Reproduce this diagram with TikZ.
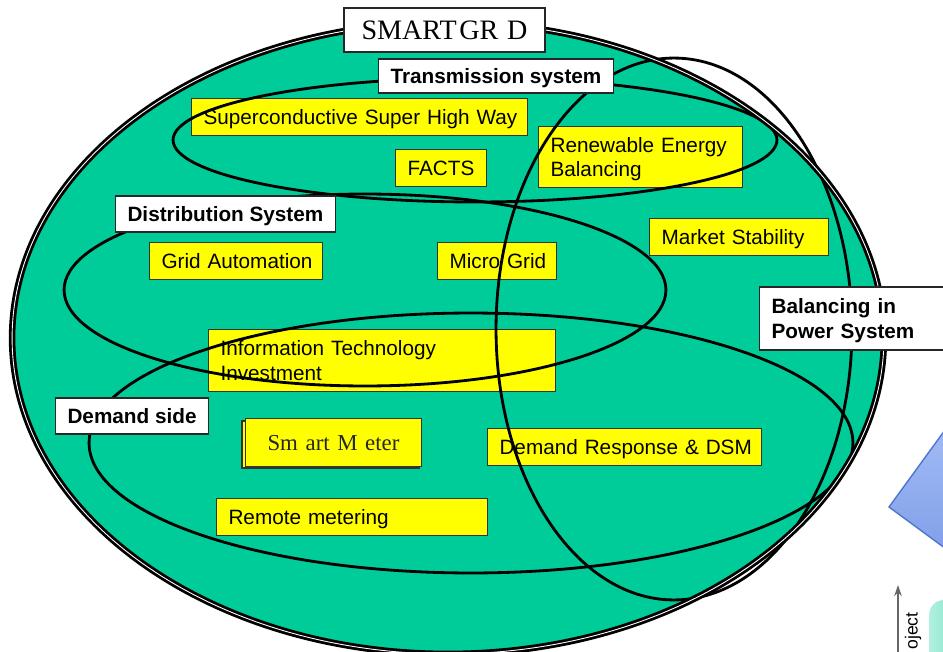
\documentclass[tikz,border=0pt]{standalone}
\usepackage{fontspec}
\setmainfont{Liberation Sans}
\newfontfamily\gridserif{Liberation Serif}
\usetikzlibrary{arrows.meta}
\definecolor{gridgreen}{RGB}{0,204,153}
\definecolor{boxyellow}{RGB}{255,255,0}
\definecolor{diamondtop}{RGB}{172,196,250}
\definecolor{diamondbot}{RGB}{118,150,228}
\definecolor{diamondline}{RGB}{78,118,205}
\tikzset{
  area/.style={line width=1.6pt},
  nobreaks/.style={execute at begin node={\hyphenpenalty=10000\exhyphenpenalty=10000}},
  yellowbox/.style={draw=black!80, fill=boxyellow, line width=0.6pt, anchor=north west, nobreaks,
    inner xsep=0.24cm, inner ysep=0pt, text depth=0pt, align=left, font=\fontsize{11.8}{13.8}\selectfont},
  areaname/.style={draw=black!85, fill=white, line width=0.6pt, anchor=west, nobreaks,
    inner xsep=0.24cm, inner ysep=0pt, text depth=0pt, align=left, font=\bfseries\fontsize{11.8}{13.8}\selectfont},
  twoline/.style={text height=8.5pt, text depth=13.8pt},
}
\begin{document}
\begin{tikzpicture}[x=0.02cm,y=-0.02cm]
  \useasboundingbox (0,0) rectangle (943,652);
  \clip (0,0) rectangle (943,652);
  \fill[gridgreen] (448,338) ellipse [x radius=8.72cm, y radius=6.32cm];

  \node[yellowbox, text width=6.24cm, minimum height=0.74cm] (sup) at (191,98) {Superconductive~Super~High~Way};
  \node[yellowbox, text width=1.34cm, minimum height=0.74cm] (facts) at (395,149) {FACTS};
  \node[yellowbox, twoline, text width=3.6cm, minimum height=1.22cm] (renew) at (538,126) {Renewable~Energy\\Balancing};
  \node[yellowbox, text width=2.98cm, minimum height=0.74cm] (gridauto) at (149,242) {Grid~Automation};
  \node[yellowbox, text width=1.9cm, minimum height=0.74cm] (micro) at (437,242) {Micro~Grid};
  \node[yellowbox, text width=3.1cm, minimum height=0.74cm] (market) at (649,218) {Market~Stability};
  \node[yellowbox, twoline, text width=6.46cm, minimum height=1.24cm] (info) at (208,329) {Information~Technology\\Investment};
  \draw[draw=black!80, fill=boxyellow, line width=0.6pt] (242,421) rectangle (419,468);
  \node[yellowbox, text width=3.04cm, minimum height=0.96cm, align=center,
    font=\gridserif\fontsize{13}{15}\selectfont, text=black!85] (meter) at (245,418) {Sm art M eter};
  \node[yellowbox, text width=5.0cm, minimum height=0.74cm] (dsm) at (487,428) {Demand~Response~\&~DSM};
  \node[yellowbox, text width=4.94cm, minimum height=0.74cm] (remote) at (216,498) {Remote~metering};

  \draw[area] (475,140) ellipse [x radius=6.04cm, y radius=1.24cm];
  \draw[area] (365,290) ellipse [x radius=6.02cm, y radius=1.92cm];
  \draw[area] (471,443) ellipse [x radius=7.64cm, y radius=2.6cm];
  \draw[area] (674,329) ellipse [x radius=3.56cm, y radius=5.42cm];
  \draw[line width=1.6pt, double=white, double distance=0.5pt] (448,338) ellipse [x radius=8.72cm, y radius=6.32cm];

  \node[draw=black!85, fill=white, line width=0.6pt, minimum width=4.02cm, minimum height=0.88cm,
    font=\gridserif\fontsize{16}{18}\selectfont] (smart) at (444.5,30) {SMART\kern1.5pt GR\kern5pt D};
  \node[areaname, minimum height=0.68cm] (trans) at (378,76) {Transmission system};
  \node[areaname, minimum height=0.72cm] (dist) at (115,214) {Distribution System};
  \node[areaname, minimum height=0.72cm] (demand) at (55,416) {Demand side};
  \node[areaname, twoline, minimum height=1.26cm, text width=4cm] (balance) at (759,318.5) {Balancing in\\Power System};

  \draw[diamondline, line width=0.8pt, top color=diamondtop, bottom color=diamondbot]
    (889,507) -- (977,386) -- (1098,475) -- (1010,596) -- cycle;
  \shade[rounded corners=0.3cm, left color=gridgreen!30!white, right color=gridgreen!85] (929,600) rectangle (1010,720);
  \coordinate (projtail) at (898,660);
  \coordinate (projhead) at (898,585);
  \draw[black!60, line width=1.1pt, -{Stealth[length=0.22cm,width=0.15cm]}] (projtail) -- (projhead);
  \node[rotate=90, anchor=west, inner sep=0pt, font=\fontsize{10}{12}\selectfont] (projtext) at (913,650) {oject};
\end{tikzpicture}
\end{document}
